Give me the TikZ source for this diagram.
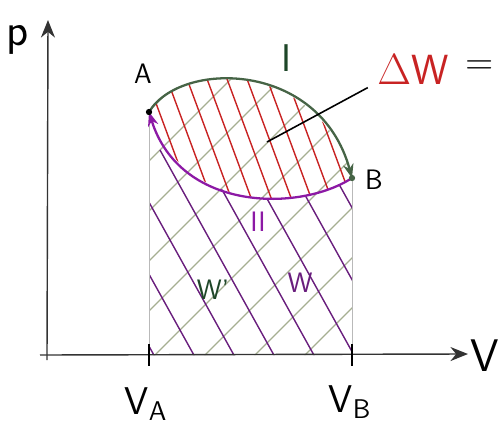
\documentclass[tikz,border=0pt]{standalone}
\usetikzlibrary{arrows.meta}
\definecolor{hatchGray}{RGB}{165,175,145}
\definecolor{hatchRed}{RGB}{200,35,35}
\definecolor{hatchPurple}{RGB}{105,30,125}
\definecolor{curveGreen}{RGB}{70,100,70}
\definecolor{curvePurple}{RGB}{140,25,165}
\definecolor{labelGreen}{RGB}{30,70,40}

\begin{document}
\begin{tikzpicture}[x=0.02cm, y=-0.02cm,
    axis/.style={-{Stealth[length=10pt, width=8pt]}, thick, black!80},
    guide/.style={draw=gray!55, line width=0.5pt},
    hatch/.style={line width=0.8pt},
    process/.style={line width=1.3pt, -{Stealth[length=8pt, width=6pt]}},
    lbl/.style={font=\sffamily\fontsize{16}{18}\selectfont},
    big/.style={font=\sffamily\fontsize{26}{28}\selectfont},
    tick/.style={thick, black}
]
\useasboundingbox (0,0) rectangle (498,430);

% states and axis points
\coordinate (A)      at (149,112);
\coordinate (B)      at (352,178);
\coordinate (VA)     at (149,355);
\coordinate (VB)     at (352,355);
\coordinate (xstart) at (40,355);
\coordinate (xend)   at (468,354);
\coordinate (ystart) at (47,360);
\coordinate (yend)   at (48,20);
\coordinate (ptr)    at (267,142);

% hatching
\begin{scope}
  \clip (VA) -- (A) .. controls (180,60) and (320,60) .. (B) -- (VB) -- cycle;
  \foreach \i in {-150,-100,...,400}
    \draw[hatch, hatchGray] (\i,360) -- ++(320,-320);
\end{scope}
\begin{scope}
  \clip (A) .. controls (180,60) and (320,60) .. (B) .. controls (300,212) and (180,212) .. (A);
  \foreach \i in {40,60,...,360}
    \draw[hatch, hatchRed] (\i,60) -- ++(60,162);
\end{scope}
\begin{scope}
  \clip (VA) -- (A) .. controls (180,212) and (300,212) .. (B) -- (VB) -- cycle;
  \foreach \i in {-40,0,...,360}
    \draw[hatch, hatchPurple] (\i,150) -- ++(120,216);
\end{scope}

% guides and axes
\draw[guide] (A) -- (VA);
\draw[guide] (B) -- (VB);
\draw[axis] (xstart) -- (xend);
\draw[axis] (ystart) -- (yend);
\draw[tick] (VA) ++(0,-11) -- ++(0,22);
\draw[tick] (VB) ++(0,-11) -- ++(0,22);

% cycle
\draw[process, curveGreen] (A) .. controls (180,60) and (320,60) .. (B);
\draw[process, curvePurple] (B) .. controls (300,212) and (180,212) .. (A);
\fill (A) circle (1.8pt);
\fill[curveGreen] (B) circle (1.8pt);

% labels
\node[lbl] (labA)  at (143,74)  {A};
\node[lbl] (labB)  at (374,180) {B};
\node[big] (labV)  at (485,356) {V};
\node[big] (labp)  at (18,40)   {p};
\node[lbl, font=\sffamily\fontsize{22}{24}\selectfont] (labVA) at (146,404) {V\textsubscript{A}};
\node[lbl, font=\sffamily\fontsize{22}{24}\selectfont] (labVB) at (350,402) {V\textsubscript{B}};
\node[lbl, labelGreen, font=\sffamily\fontsize{22}{24}\selectfont] (labI) at (287,58) {I};
\node[lbl, curvePurple] (labII) at (258,222) {II};
\node[lbl, labelGreen] (labWp) at (213,290) {W'};
\node[lbl, hatchPurple] (labW)  at (300,283) {W};
\node[lbl, hatchRed, font=\sffamily\fontsize{24}{26}\selectfont] (labdW) at (413,70) {$\Delta$W};
\node[lbl, font=\sffamily\fontsize{22}{24}\selectfont, inner sep=1pt] (labeq) at (480,68) {=};

% pointer to the work area
\draw[line width=0.9pt] (ptr) -- ([xshift=-2pt, yshift=2pt]labdW.south west);

\end{tikzpicture}
\end{document}
